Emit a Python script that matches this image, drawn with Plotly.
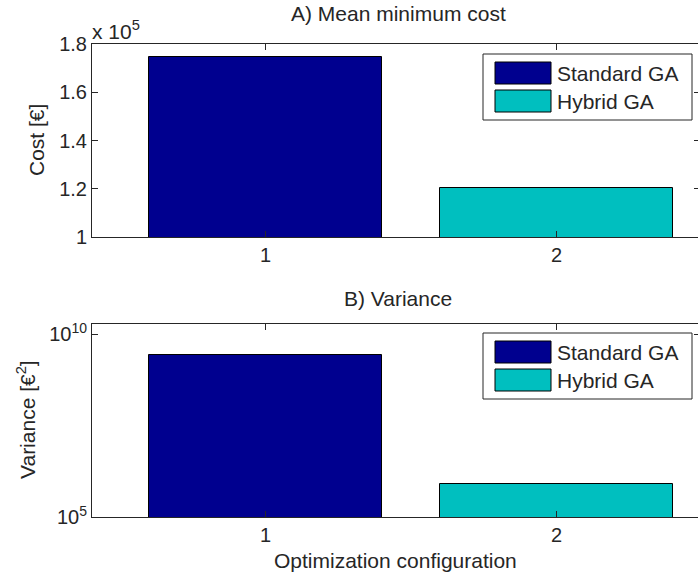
import plotly.graph_objects as go

# ---- data ----
configs = [1, 2]
series_names = ["Standard GA", "Hybrid GA"]
series_colors = ["#00008F", "#00BFBF"]
mean_min_cost = [1.746e5, 1.204e5]      # A) Mean minimum cost [€]
variance = [2.6e9, 8.2e5]               # B) Variance [€²]
cost_ticks = [1.0e5, 1.2e5, 1.4e5, 1.6e5, 1.8e5]
cost_ticktext = ["1", "1.2", "1.4", "1.6", "1.8"]
var_ticks = [1e5, 1e10]
var_ticktext = ["10<sup>5</sup>", "10<sup>10</sup>"]

W, H = 698, 573
L, R, T, B = 92, 0, 44, 56
PW, PH = W - L - R, H - T - B
FONT = "Liberation Sans, Arial, sans-serif"
FS = 20
FT = 21
INK = "#262626"


def px(x):
    return (x - L) / PW


def py(y):
    return (H - B - y) / PH


fig = go.Figure()

for i, name in enumerate(series_names):
    fig.add_trace(go.Bar(x=[configs[i]], y=[mean_min_cost[i]], name=name,
                         marker=dict(color=series_colors[i], line=dict(color="black", width=1)),
                         width=0.8, xaxis="x", yaxis="y", showlegend=False))
    fig.add_trace(go.Bar(x=[configs[i]], y=[variance[i]], name=name,
                         marker=dict(color=series_colors[i], line=dict(color="black", width=1)),
                         width=0.8, xaxis="x2", yaxis="y2", showlegend=False))

fig.add_trace(go.Scatter(x=[None], y=[None], xaxis="x", yaxis="y3", showlegend=False, hoverinfo="skip"))
fig.add_trace(go.Scatter(x=[None], y=[None], xaxis="x2", yaxis="y4", showlegend=False, hoverinfo="skip"))

top_dom = [py(237), 1.0]
bot_dom = [0.0, py(324)]
xrange_ = [0.4038, 2.486]

xcommon = dict(range=xrange_, tickvals=configs, ticktext=[str(c) for c in configs],
               ticks="inside", ticklen=6, tickcolor=INK, showline=True, linecolor=INK,
               linewidth=1, mirror="ticks", showgrid=False, zeroline=False,
               tickfont=dict(family=FONT, size=FS, color=INK))

fig.update_layout(
    width=W, height=H,
    margin=dict(l=L, r=R, t=T, b=B, autoexpand=False),
    paper_bgcolor="white", plot_bgcolor="white",
    bargap=0, barmode="overlay",
    font=dict(family=FONT, size=FT, color=INK),
    xaxis=dict(domain=[0, 1], anchor="y", **xcommon),
    xaxis2=dict(domain=[0, 1], anchor="y2", **xcommon),
    yaxis=dict(domain=top_dom, anchor="x", range=[1.0e5, 1.8e5], tickvals=cost_ticks,
               ticktext=cost_ticktext, ticks="inside", ticklen=6, tickcolor=INK,
               showline=True, linecolor=INK, linewidth=1, showgrid=False, zeroline=False,
               tickfont=dict(family=FONT, size=FS, color=INK)),
    yaxis2=dict(domain=bot_dom, anchor="x2", type="log", range=[5, 10.274], tickvals=var_ticks,
                ticktext=var_ticktext, ticks="inside", ticklen=6, tickcolor=INK,
                showline=True, linecolor=INK, linewidth=1, showgrid=False, zeroline=False,
                tickfont=dict(family=FONT, size=FS, color=INK)),
    yaxis3=dict(overlaying="y", side="right", anchor="free", position=1, range=[1.0e5, 1.8e5],
                tickvals=cost_ticks, showticklabels=False, ticks="inside", ticklen=4,
                tickcolor=INK, showline=False, showgrid=False, zeroline=False),
    yaxis4=dict(overlaying="y2", side="right", anchor="free", position=1, type="log",
                range=[5, 10.274], tickvals=var_ticks, showticklabels=False, ticks="inside",
                ticklen=4, tickcolor=INK, showline=False, showgrid=False, zeroline=False),
)

ann = []
ann.append(dict(text="A) Mean minimum cost", x=px(398), y=py(14), xref="paper", yref="paper",
                showarrow=False, xanchor="center", yanchor="middle"))
ann.append(dict(text="B) Variance", x=px(398), y=py(298), xref="paper", yref="paper",
                showarrow=False, xanchor="center", yanchor="middle"))
ann.append(dict(text="Optimization configuration", x=px(395), y=py(560), xref="paper", yref="paper",
                showarrow=False, xanchor="center", yanchor="middle"))
ann.append(dict(text="Cost [€]", x=px(36), y=py(140), xref="paper", yref="paper", textangle=-90,
                showarrow=False, xanchor="center", yanchor="middle"))
ann.append(dict(text="Variance [€<sup>2</sup>]", x=px(26), y=py(420), xref="paper", yref="paper",
                textangle=-90, showarrow=False, xanchor="center", yanchor="middle"))
ann.append(dict(text="x 10<sup>5</sup>", x=px(90), y=py(30), xref="paper", yref="paper",
                showarrow=False, xanchor="left", yanchor="middle"))

shapes = []
for top in (54, 333):
    shapes.append(dict(type="rect", xref="paper", yref="paper", x0=px(483), x1=px(692),
                       y0=py(top), y1=py(top + 66), line=dict(color=INK, width=1),
                       fillcolor="white", layer="above"))
    for j, name in enumerate(series_names):
        y0 = top + 8 + j * 28
        shapes.append(dict(type="rect", xref="paper", yref="paper", x0=px(495), x1=px(551),
                           y0=py(y0), y1=py(y0 + 22), line=dict(color="black", width=1),
                           fillcolor=series_colors[j], layer="above"))
        ann.append(dict(text=name, x=px(555), y=py(y0 + 11), xref="paper", yref="paper",
                        showarrow=False, xanchor="left", yanchor="middle"))

fig.update_layout(annotations=ann, shapes=shapes)
fig.write_html("out.html", config={"displayModeBar": False})

# remove the default 8px body margin so the figure sits at the window's top-left corner
with open("out.html", encoding="utf-8") as f:
    html = f.read()
html = html.replace("<body>", '<body style="margin:0;overflow:hidden">', 1)
with open("out.html", "w", encoding="utf-8") as f:
    f.write(html)
